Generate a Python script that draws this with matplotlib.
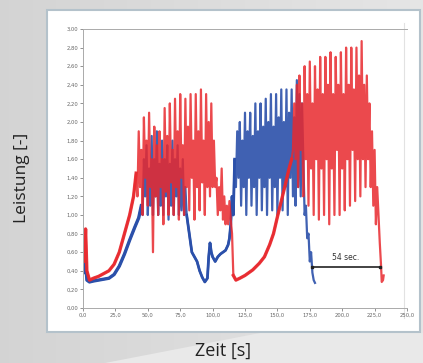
import numpy as np
import matplotlib
matplotlib.use("Agg")
import matplotlib.pyplot as plt
from matplotlib.patches import Rectangle, Polygon

# Red run: ramps as (t, v) pairs, oscillating parts as values at 1 s samples
red_ramp1_t = [0, 1, 2, 3, 5, 8, 12, 16, 20, 24, 28, 32, 36, 39, 41]
red_ramp1_v = [0.65, 0.5, 0.85, 0.4, 0.3, 0.32, 0.34, 0.37, 0.4, 0.47, 0.6, 0.8, 1.0, 1.2, 1.45]
red_osc1_start = 42
red_osc1_v = [1.2, 1.9, 1.3, 1.7, 1.0, 2.05, 1.4, 1.8, 1.1, 2.1, 1.3, 1.6, 0.6, 1.95, 1.2,
              1.75, 1.0, 1.9, 1.3, 1.6, 0.9, 2.15, 1.25, 1.85, 1.0, 2.2, 1.35, 1.7, 1.0, 2.25,
              1.3, 1.9, 0.95, 2.3, 1.4, 1.75, 1.0, 2.25, 1.3, 1.95, 1.05, 2.3, 1.4, 1.8, 0.95,
              2.3, 1.3, 1.9, 1.05, 2.35, 1.35, 1.8, 1.0, 2.3, 1.3, 2.0, 1.2, 2.2, 1.3, 1.8]
red_valley_t = [102, 103, 104, 105, 106, 107, 108, 109, 110, 111, 112, 113, 114, 115, 116,
                118, 121, 125, 131, 136, 140, 144, 147, 150, 153, 156, 159, 161]
red_valley_v = [1.3, 1.4, 1.0, 1.3, 1.05, 1.5, 0.95, 1.2, 0.9, 1.1, 0.9, 1.15, 0.95, 0.8, 0.35,
                0.3, 0.32, 0.35, 0.41, 0.48, 0.55, 0.68, 0.8, 0.98, 1.15, 1.32, 1.5, 1.6]
red_osc2_start = 162
red_osc2_v = [1.7, 2.2, 1.6, 2.4, 1.3, 2.5, 1.7, 2.2, 1.2, 2.6, 1.6, 2.3, 1.1, 2.65, 1.5,
              2.2, 1.0, 2.6, 1.6, 2.35, 0.95, 2.7, 1.5, 2.3, 1.0, 2.7, 1.6, 2.4, 0.9, 2.75,
              1.5, 2.3, 1.0, 2.7, 1.7, 2.4, 1.0, 2.75, 1.5, 2.3, 1.05, 2.8, 1.6, 2.4, 1.1,
              2.8, 1.7, 2.35, 1.15, 2.8, 1.6, 2.5, 1.2, 2.87, 1.6, 2.4, 1.3, 2.5, 1.6, 2.2,
              1.3, 1.9, 1.1, 1.7, 0.9, 1.3]
red_tail_t = [228, 229, 230, 230.5, 231.5, 232]
red_tail_v = [1.0, 0.7, 0.45, 0.28, 0.3, 0.35]

# Blue run
blue_ramp1_t = [0, 1, 2, 3, 5, 8, 12, 16, 20, 24, 28, 32, 36, 40, 43, 45]
blue_ramp1_v = [0.45, 0.38, 0.5, 0.3, 0.28, 0.29, 0.3, 0.31, 0.32, 0.36, 0.45, 0.58, 0.73, 0.87, 0.97, 1.1]
blue_osc1_start = 46
blue_osc1_v = [1.0, 1.6, 1.2, 1.75, 1.0, 1.5, 1.1, 1.85, 1.0, 1.6, 1.2, 1.9, 1.0, 1.55, 1.1,
               1.8, 1.0, 1.6, 1.2, 1.75, 0.95, 1.55, 1.1, 1.8, 1.0, 1.6, 1.2, 1.75, 1.0, 1.5,
               1.05, 1.6, 1.0, 1.3]
blue_valley_t = [80, 82, 84, 86, 88, 90, 92, 94, 96, 97, 98, 99, 100, 102, 104, 106, 108,
                 110, 112, 113, 114, 115, 116, 117]
blue_valley_v = [1.0, 0.8, 0.6, 0.55, 0.5, 0.4, 0.33, 0.28, 0.32, 0.55, 0.7, 0.6, 0.55, 0.5,
                 0.55, 0.58, 0.6, 0.62, 0.68, 0.75, 0.9, 1.2, 1.0, 1.6]
blue_osc2_start = 118
blue_osc2_v = [1.3, 1.9, 1.4, 2.0, 1.1, 1.8, 1.3, 2.1, 1.0, 1.9, 1.4, 2.1, 1.1, 1.85, 1.3,
               2.2, 1.0, 1.9, 1.4, 2.2, 1.05, 1.95, 1.3, 2.25, 1.0, 2.0, 1.4, 2.3, 1.05, 1.95,
               1.3, 2.3, 1.0, 2.05, 1.4, 2.35, 1.05, 2.0, 1.3, 2.35, 1.0, 2.1, 1.4, 2.35, 1.2,
               2.05, 1.1, 2.45, 1.3, 2.3, 1.2, 2.2]
blue_tail_t = [170, 171, 172, 173, 174, 175, 176, 177, 178, 179]
blue_tail_v = [1.6, 1.0, 1.1, 0.75, 0.8, 0.5, 0.6, 0.38, 0.3, 0.27]

# 54 s gap marker
gap_t = [176.5, 229.5]
gap_v = 0.44
gap_label = "54 sec."

x_ticks = [0, 25, 50, 75, 100, 125, 150, 175, 200, 225, 250]
y_ticks = [0.0, 0.2, 0.4, 0.6, 0.8, 1.0, 1.2, 1.4, 1.6, 1.8, 2.0, 2.2, 2.4, 2.6, 2.8, 3.0]

RED = "#e8292e"
BLUE = "#2b50aa"


def build_series(ramp_t, ramp_v, osc1_start, osc1_v, valley_t, valley_v,
                 osc2_start, osc2_v, tail_t, tail_v):
    t = list(ramp_t) + list(np.arange(osc1_start, osc1_start + len(osc1_v)))
    v = list(ramp_v) + list(osc1_v)
    t += list(valley_t) + list(np.arange(osc2_start, osc2_start + len(osc2_v)))
    v += list(valley_v) + list(osc2_v)
    t += list(tail_t)
    v += list(tail_v)
    return np.array(t, dtype=float), np.array(v, dtype=float)


red_t, red_v = build_series(red_ramp1_t, red_ramp1_v, red_osc1_start, red_osc1_v,
                            red_valley_t, red_valley_v, red_osc2_start, red_osc2_v,
                            red_tail_t, red_tail_v)
blue_t, blue_v = build_series(blue_ramp1_t, blue_ramp1_v, blue_osc1_start, blue_osc1_v,
                              blue_valley_t, blue_valley_v, blue_osc2_start, blue_osc2_v,
                              blue_tail_t, blue_tail_v)

W, H = 423, 363
fig = plt.figure(figsize=(W / 100, H / 100), dpi=100)

# gray backdrop with lighter wedge at the bottom
bg = fig.add_axes([0, 0, 1, 1])
bg.set_xlim(0, W)
bg.set_ylim(H, 0)
bg.axis("off")
grad = np.linspace(0.83, 0.90, 256)[None, :]
bg.imshow(np.dstack([grad, grad, grad]), extent=[0, W, H, 0], aspect="auto")
bg.add_patch(Polygon([[105, H], [260, 333], [W, 333], [W, H]], closed=True,
                     facecolor="#e9e9e9", edgecolor="none"))
bg.add_patch(Rectangle((47, 10), 373, 322, facecolor="white",
                       edgecolor="#b4c2cb", linewidth=1.5))
bg.plot([404, 404], [23, 318], color="#e2e2e2", lw=0.8)

ax = fig.add_axes([83 / W, 1 - 308 / H, (407 - 83) / W, 279 / H])
ax.set_facecolor("none")
ax.plot(blue_t, blue_v, color=BLUE, lw=1.6, alpha=0.9)
ax.plot(blue_ramp1_t, blue_ramp1_v, color=BLUE, lw=2.4)
ax.plot(blue_valley_t, blue_valley_v, color=BLUE, lw=2.0)
ax.plot(red_t, red_v, color=RED, lw=1.6, alpha=0.85)
ax.plot(red_ramp1_t, red_ramp1_v, color=RED, lw=2.4, alpha=0.9)
ax.plot(red_valley_t[14:], red_valley_v[14:], color=RED, lw=2.4, alpha=0.9)

ax.plot(gap_t, [gap_v, gap_v], color="#222222", lw=1.2, marker="s", markersize=2)
ax.text(sum(gap_t) / 2, gap_v + 0.06, gap_label, ha="center", va="bottom",
        fontsize=5.5, color="#333333")

ax.set_xlim(0, 250)
ax.set_ylim(0, 3.0)
ax.set_xticks(x_ticks)
ax.set_xticklabels([f"{x:.1f}".replace(".", ",") for x in x_ticks])
ax.set_yticks(y_ticks)
ax.set_yticklabels([f"{y:.2f}".replace(".", ",") for y in y_ticks])
ax.tick_params(labelsize=3.8, colors="#666666", length=2, width=0.5, pad=1.5)
for side in ["left", "bottom", "top"]:
    ax.spines[side].set_color("#aaaaaa")
    ax.spines[side].set_linewidth(0.7)
ax.spines["right"].set_visible(False)

fig.text(22 / W, 1 - 178 / H, "Leistung [-]", rotation=90, ha="center", va="center",
         fontsize=12.5, family="Open Sans", color="#222222")
fig.text(223 / W, 1 - 351 / H, "Zeit [s]", ha="center", va="center",
         fontsize=13, family="Open Sans", color="#222222")

fig.savefig("out.png", dpi=100)
